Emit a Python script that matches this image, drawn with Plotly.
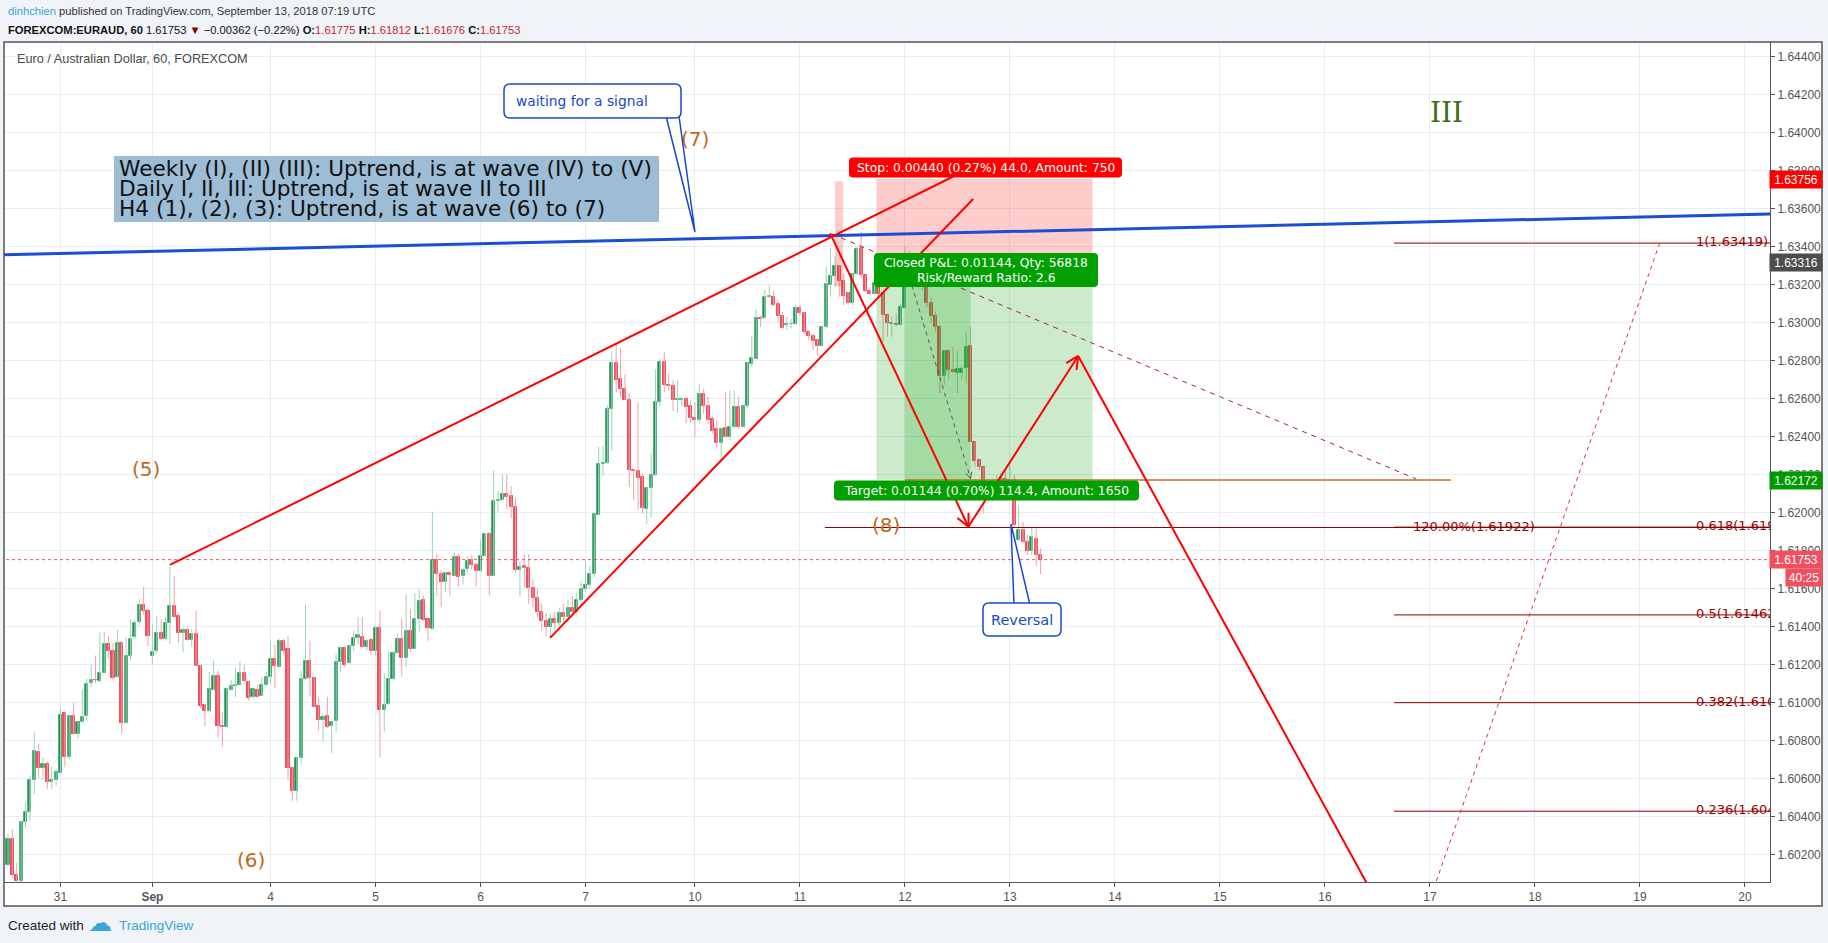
import plotly.graph_objects as go
import math

# ---------------- DATA ----------------
bar_index = list(range(-12, 225))
open_ = [1.60146,1.60283,1.60093,1.60064,1.60374,1.60423,1.60593,1.60743,1.60655,1.60678,1.60585,1.60593,
 1.60630,1.60948,1.60713,1.60932,1.60836,1.60897,1.60928,1.61102,1.61121,1.61113,1.61157,1.61309,1.61274,1.61134,
 1.61316,1.60892,1.61246,1.61344,1.61423,1.61514,1.61485,1.61246,1.61271,1.61367,1.61334,1.61420,1.61509,1.61456,
 1.61365,1.61383,1.61330,1.61362,1.61195,1.60990,1.60955,1.61067,1.61143,1.60879,1.60871,1.61067,1.61086,1.61093,
 1.61157,1.61111,1.61028,1.61067,1.61037,1.61093,
 1.61133,1.61230,1.61190,1.61326,1.61282,1.60658,1.60533,1.60709,1.61124,1.61221,1.61131,1.60984,1.60909,1.60931,
 1.60875,1.60902,1.61212,1.61288,1.61207,1.61300,1.61338,1.61346,1.61291,1.61331,1.61270,1.61393,1.60961,1.60991,
 1.61124,1.61259,1.61335,1.61233,1.61377,1.61284,1.61440,1.61540,1.61440,1.61388,1.61749,1.61677,1.61633,1.61682,
 1.61668,1.61766,1.61665,1.61702,1.61749,1.61726,1.61691,1.61772,1.61888,1.61668,1.62061,1.62065,1.62098,1.62087,
 1.62031,1.61696,1.61721,1.61710,
 1.61602,1.61550,1.61480,1.61430,1.61400,1.61440,1.61420,1.61470,1.61450,1.61500,1.61480,1.61540,1.61600,1.61620,
 1.61680,
 1.61990,1.62254,1.62263,1.62548,1.62790,1.62702,1.62653,1.62595,1.62226,1.62219,1.62188,1.62021,1.62132,1.62198,
 1.62583,1.62793,1.62674,1.62667,1.62591,1.62591,1.62600,1.62560,1.62500,1.62489,1.62626,1.62562,1.62491,1.62440,
 1.62368,1.62444,1.62398,1.62451,1.62556,1.62451,1.62562,1.62784,1.62811,1.63026,1.63026,1.63135,1.63137,1.63100,
 1.63033,
 1.62988,1.62991,1.62993,1.63080,1.63052,1.62952,1.62931,1.62909,1.62880,1.62975,1.63198,1.63245,1.63296,1.63221,
 1.63154,1.63102,1.63256,1.63391,1.63251,1.63166,1.63151,1.63205,1.63154,1.63040,1.62991,1.62995,1.62988,1.63080,
 1.63233,1.63300,1.63250,1.63242,1.63189,1.63102,1.63035,1.62979,1.62721,1.62851,1.62751,1.62737,1.62737,1.62763,
 1.62877,1.62373,1.62277,1.62238,1.62066,1.62102,1.62150,1.62120,1.62180,1.62160,1.62172,1.61857,1.61909,1.61847,
 1.61800,1.61861,1.61775]
high = [1.60309,1.60335,1.60160,1.60380,1.60479,1.60616,1.60848,1.60785,1.60713,1.60690,1.60664,1.60651,
 1.60976,1.60950,1.60935,1.60999,1.60900,1.61069,1.61125,1.61200,1.61248,1.61369,1.61374,1.61351,1.61314,1.61385,
 1.61323,1.61341,1.61437,1.61435,1.61546,1.61611,1.61493,1.61411,1.61455,1.61437,1.61449,1.61716,1.61669,1.61474,
 1.61397,1.61393,1.61388,1.61485,1.61197,1.60993,1.61162,1.61227,1.61169,1.60953,1.61075,1.61121,1.61186,1.61218,
 1.61200,1.61113,1.61074,1.61095,1.61134,1.61160,
 1.61323,1.61305,1.61335,1.61335,1.61352,1.60660,1.60712,1.61168,1.61516,1.61326,1.61133,1.61026,1.60945,1.61031,
 1.60900,1.61259,1.61300,1.61300,1.61305,1.61379,1.61449,1.61452,1.61335,1.61340,1.61405,1.61484,1.61156,1.61273,
 1.61273,1.61365,1.61442,1.61570,1.61493,1.61577,1.61598,1.61563,1.61449,1.62005,1.61782,1.61698,1.61686,1.61695,
 1.61791,1.61784,1.61707,1.61773,1.61779,1.61738,1.61858,1.61891,1.61900,1.62221,1.62116,1.62200,1.62200,1.62140,
 1.62079,1.61744,1.61782,1.61782,
 1.61650,1.61600,1.61520,1.61470,1.61470,1.61480,1.61500,1.61520,1.61540,1.61560,1.61580,1.61640,1.61750,1.61720,
 1.62000,
 1.62346,1.62351,1.62565,1.62849,1.62898,1.62867,1.62728,1.62630,1.62231,1.62583,1.62209,1.62135,1.62311,1.62755,
 1.62811,1.62846,1.62732,1.62697,1.62697,1.62610,1.62609,1.62590,1.62583,1.62679,1.62653,1.62609,1.62507,1.62486,
 1.62451,1.62635,1.62644,1.62644,1.62609,1.62565,1.62793,1.62930,1.63070,1.63039,1.63174,1.63197,1.63170,1.63118,
 1.63056,
 1.63031,1.63020,1.63093,1.63093,1.63058,1.62961,1.62944,1.62917,1.62979,1.63294,1.63391,1.63347,1.63303,1.63259,
 1.63163,1.63259,1.63396,1.63479,1.63251,1.63189,1.63215,1.63215,1.63163,1.63042,1.63031,1.63050,1.63102,1.63400,
 1.63380,1.63350,1.63300,1.63280,1.63220,1.63130,1.63060,1.62988,1.62855,1.62860,1.62873,1.62856,1.62770,1.62952,
 1.62979,1.62375,1.62280,1.62240,1.62140,1.62180,1.62200,1.62210,1.62230,1.62250,1.62200,1.62041,1.61953,1.61883,
 1.61926,1.61926,1.61812]
low = [1.60142,1.60081,1.60055,1.60055,1.60344,1.60379,1.60520,1.60607,1.60590,1.60546,1.60546,1.60564,
 1.60625,1.60660,1.60704,1.60830,1.60813,1.60892,1.60906,1.61081,1.61102,1.61102,1.61152,1.61230,1.61116,1.61128,
 1.60835,1.60888,1.61225,1.61335,1.61406,1.61464,1.61295,1.61200,1.61257,1.61327,1.61327,1.61309,1.61446,1.61314,
 1.61265,1.61327,1.61292,1.61193,1.60972,1.60876,1.60950,1.61063,1.60818,1.60769,1.60868,1.61064,1.61028,1.61090,
 1.61099,1.61011,1.61020,1.61028,1.61035,1.61090,
 1.61098,1.61075,1.61186,1.61256,1.60589,1.60484,1.60484,1.60680,1.61120,1.61031,1.60975,1.60852,1.60796,1.60866,
 1.60733,1.60849,1.61159,1.61186,1.61205,1.61273,1.61309,1.61289,1.61273,1.61251,1.61249,1.60712,1.60847,1.60989,
 1.61121,1.61258,1.61137,1.61186,1.61265,1.61282,1.61375,1.61432,1.61326,1.61385,1.61563,1.61502,1.61580,1.61559,
 1.61663,1.61612,1.61621,1.61686,1.61700,1.61612,1.61689,1.61770,1.61565,1.61665,1.62007,1.62063,1.62019,1.61970,
 1.61686,1.61559,1.61607,1.61519,
 1.61500,1.61450,1.61380,1.61350,1.61340,1.61380,1.61400,1.61420,1.61430,1.61450,1.61460,1.61520,1.61580,1.61600,
 1.61660,
 1.61986,1.62197,1.62258,1.62328,1.62635,1.62609,1.62591,1.62135,1.62065,1.62012,1.61995,1.61939,1.61974,1.62193,
 1.62560,1.62635,1.62642,1.62535,1.62526,1.62560,1.62472,1.62472,1.62398,1.62472,1.62521,1.62469,1.62416,1.62337,
 1.62272,1.62395,1.62381,1.62442,1.62442,1.62449,1.62548,1.62767,1.62808,1.62977,1.63021,1.63130,1.63083,1.63004,
 1.62968,
 1.62961,1.62970,1.62988,1.63040,1.62940,1.62909,1.62856,1.62830,1.62874,1.62972,1.63137,1.63189,1.63137,1.63093,
 1.63093,1.63093,1.63251,1.63233,1.63159,1.63145,1.63145,1.63140,1.62900,1.62926,1.62926,1.62980,1.62985,1.63075,
 1.63200,1.63230,1.63180,1.63170,1.63080,1.63000,1.62950,1.62628,1.62672,1.62700,1.62735,1.62628,1.62700,1.62680,
 1.62370,1.62242,1.62220,1.61996,1.62050,1.62060,1.62100,1.62080,1.62130,1.62120,1.61920,1.61847,1.61839,1.61777,
 1.61777,1.61719,1.61676]
close = [1.60283,1.60093,1.60064,1.60371,1.60423,1.60593,1.60746,1.60655,1.60678,1.60581,1.60595,1.60637,
 1.60937,1.60713,1.60932,1.60834,1.60897,1.60923,1.61099,1.61120,1.61118,1.61157,1.61309,1.61274,1.61130,1.61314,
 1.60892,1.61246,1.61334,1.61421,1.61514,1.61481,1.61349,1.61269,1.61367,1.61334,1.61420,1.61509,1.61449,1.61365,
 1.61383,1.61330,1.61362,1.61195,1.60985,1.60955,1.61072,1.61141,1.60876,1.60871,1.61072,1.61088,1.61095,1.61157,
 1.61113,1.61023,1.61072,1.61032,1.61093,1.61134,
 1.61230,1.61191,1.61326,1.61273,1.60654,1.60533,1.60709,1.61124,1.61221,1.61128,1.60979,1.60909,1.60926,1.60870,
 1.60898,1.61216,1.61288,1.61200,1.61298,1.61340,1.61356,1.61291,1.61326,1.61270,1.61393,1.60963,1.60989,1.61124,
 1.61261,1.61335,1.61233,1.61377,1.61284,1.61440,1.61535,1.61437,1.61391,1.61749,1.61680,1.61633,1.61682,1.61670,
 1.61766,1.61663,1.61698,1.61745,1.61723,1.61691,1.61772,1.61888,1.61668,1.62061,1.62068,1.62098,1.62084,1.62028,
 1.61696,1.61714,1.61707,1.61602,
 1.61550,1.61480,1.61430,1.61400,1.61440,1.61420,1.61470,1.61450,1.61500,1.61480,1.61540,1.61600,1.61620,1.61680,
 1.61995,
 1.62258,1.62263,1.62548,1.62790,1.62697,1.62653,1.62595,1.62226,1.62219,1.62184,1.62025,1.62132,1.62198,1.62583,
 1.62793,1.62670,1.62665,1.62591,1.62600,1.62600,1.62556,1.62500,1.62486,1.62626,1.62562,1.62486,1.62430,1.62367,
 1.62440,1.62398,1.62451,1.62556,1.62451,1.62562,1.62790,1.62814,1.63026,1.63018,1.63135,1.63137,1.63095,1.63035,
 1.62972,
 1.62991,1.62995,1.63080,1.63052,1.62952,1.62931,1.62905,1.62880,1.62975,1.63202,1.63245,1.63300,1.63221,1.63140,
 1.63102,1.63256,1.63389,1.63251,1.63166,1.63151,1.63207,1.63151,1.63040,1.63000,1.63000,1.62990,1.63084,1.63233,
 1.63300,1.63250,1.63242,1.63189,1.63102,1.63035,1.62979,1.62721,1.62851,1.62751,1.62742,1.62756,1.62756,1.62873,
 1.62373,1.62273,1.62238,1.62084,1.62102,1.62150,1.62120,1.62180,1.62160,1.62172,1.61935,1.61909,1.61847,1.61800,
 1.61870,1.61777,1.61753]

tick_bars = [0, 21, 48, 72, 96, 120, 145, 169, 193, 217, 241, 265, 289, 313, 337, 361, 385]
tick_labels = ["31", "<b>Sep</b>", "4", "5", "6", "7", "10", "11", "12", "13", "14", "15", "16", "17", "18", "19", "20"]

stop_price = 1.63756
entry_price = 1.63316
target_price = 1.62172
last_price = 1.61753
fib_names = ["1", "0.618", "0.5", "0.382", "0.236"]
fib_prices = [1.63419, 1.61924, 1.61462, 1.61000, 1.60429]
fib_zero = 1.59505
ext_price = 1.61922

# drawing anchor points (bar, price)
blue_trend = [(-14.0, 1.63357), (392.0, 1.63573)]
upper_wedge = [(25.0, 1.61725), (206.8, 1.63801)]
lower_wedge = [(111.9, 1.61341), (208.6, 1.63651)]
wave_path = [(175.9, 1.63471), (207.5, 1.61926), (232.6, 1.62825), (323.5, 1.59000)]
dashed_red = [(176.3, 1.63467), (309.8, 1.62178)]
trade_path = [(193.0, 1.63316), (208.0, 1.62180)]
fib_diag = [(306.0, fib_zero), (365.5, fib_prices[0])]
pos_bars = (186.5, 235.9)
closed_bars = (193.0, 208.0)
pink_bars = (177.0, 178.9)
pink_prices = (1.63744, 1.63190)
fib_start_bar = 304.8
ext_start_bar = 174.7
orange_line = [(193.0, target_price), (317.8, target_price)]

# ---------------- LAYOUT HELPERS ----------------
W, H = 1828, 943
L, R, T, B = 4, 1770, 42, 882
X0, PXB = 60.5, 4.3753
PY0, PTOP, PPX = 56.7, 1.644, 19000.0

def bx(px): return (px - X0) / PXB
def pp(py): return PTOP - (py - PY0) / PPX
def xpx(b): return X0 + b * PXB
def ypx(p): return PY0 + (PTOP - p) * PPX
def paper_x(px): return (px - L) / (R - L)
def paper_y(py): return (B - py) / (B - T)

UP_FILL, UP_LINE, UP_WICK = "#2E8B57", "#4DB37D", "#9AD5B6"
DN_FILL, DN_WICK = "#EF4F5F", "#F3A0A9"
FONT = "DejaVu Sans"
HFONT = "Liberation Sans"

fig = go.Figure()

# wicks
for up in (True, False):
    xs, ys = [], []
    for i, o, h, l, c in zip(bar_index, open_, high, low, close):
        if (c >= o) == up:
            xs += [i, i, None]
            ys += [l, h, None]
    fig.add_trace(go.Scatter(x=xs, y=ys, mode="lines", hoverinfo="skip",
                             line=dict(color=UP_WICK if up else DN_WICK, width=1), showlegend=False))
# bodies
for up in (True, False):
    xs, base, hgt = [], [], []
    for i, o, c in zip(bar_index, open_, close):
        if (c >= o) == up:
            xs.append(i)
            base.append(min(o, c))
            hgt.append(max(abs(c - o), 0.00003))
    fig.add_trace(go.Bar(x=xs, y=hgt, base=base, width=0.7, showlegend=False,
                         marker=dict(color=UP_FILL if up else DN_FILL,
                                     line=dict(color=UP_LINE if up else DN_FILL, width=1))))

# current price dotted line
fig.add_trace(go.Scatter(x=[bx(L) - 5, bx(R) + 5], y=[last_price, last_price], mode="lines",
                         line=dict(color="#EF4F5F", width=1, dash="3px,3px"), hoverinfo="skip", showlegend=False))

shapes = []
ann = []

def line(p0, p1, color, width, dash=None):
    d = dict(type="line", xref="x", yref="y", x0=p0[0], y0=p0[1], x1=p1[0], y1=p1[1],
             line=dict(color=color, width=width), layer="above")
    if dash:
        d["line"]["dash"] = dash
    shapes.append(d)

def arrowhead(p0, p1, color, width, size=14, ang=26):
    x0, y0 = xpx(p0[0]), ypx(p0[1])
    x1, y1 = xpx(p1[0]), ypx(p1[1])
    a = math.atan2(y1 - y0, x1 - x0)
    for s in (+1, -1):
        aa = a + math.pi - s * math.radians(ang)
        wx, wy = x1 + size * math.cos(aa), y1 + size * math.sin(aa)
        line((p1[0], p1[1]), (bx(wx), pp(wy)), color, width)

def rrect(x0, y0, x1, y1, r, fill, lc=None, lw=0):
    P = lambda x, y: f"{bx(x)},{pp(y)}"
    path = (f"M{P(x0+r,y0)} L{P(x1-r,y0)} Q{P(x1,y0)} {P(x1,y0+r)} L{P(x1,y1-r)} "
            f"Q{P(x1,y1)} {P(x1-r,y1)} L{P(x0+r,y1)} Q{P(x0,y1)} {P(x0,y1-r)} "
            f"L{P(x0,y0+r)} Q{P(x0,y0)} {P(x0+r,y0)} Z")
    shapes.append(dict(type="path", xref="x", yref="y", path=path, fillcolor=fill,
                       line=dict(color=lc or fill, width=lw if lc else 0), layer="above"))

def text(xp, yp, s, size, color, family=FONT, xanchor="center", **kw):
    ann.append(dict(x=bx(xp), y=pp(yp), xref="x", yref="y", text=s, showarrow=False,
                    font=dict(size=size, color=color, family=family), xanchor=xanchor,
                    yanchor="middle", **kw))

# frame background
shapes.append(dict(type="rect", xref="paper", yref="paper", x0=paper_x(4), x1=paper_x(1822),
                   y0=paper_y(906), y1=paper_y(42), fillcolor="white", line=dict(width=0), layer="below"))

# position zones
shapes.append(dict(type="rect", xref="x", yref="y", x0=pos_bars[0], x1=pos_bars[1], y0=entry_price, y1=stop_price,
                   fillcolor="rgba(255,0,0,0.2)", line=dict(width=0), layer="above"))
shapes.append(dict(type="rect", xref="x", yref="y", x0=pos_bars[0], x1=pos_bars[1], y0=target_price, y1=entry_price,
                   fillcolor="rgba(0,155,0,0.2)", line=dict(width=0), layer="above"))
shapes.append(dict(type="rect", xref="x", yref="y", x0=closed_bars[0], x1=closed_bars[1], y0=target_price, y1=entry_price,
                   fillcolor="rgba(0,155,0,0.2)", line=dict(width=0), layer="above"))
shapes.append(dict(type="rect", xref="x", yref="y", x0=pink_bars[0], x1=pink_bars[1], y0=pink_prices[1], y1=pink_prices[0],
                   fillcolor="rgba(255,0,0,0.2)", line=dict(width=0), layer="above"))

# fib lines
FIB = "#8B0000"
for fp in fib_prices:
    line((fib_start_bar, fp), (400, fp), FIB, 1)
line((ext_start_bar, ext_price), (400, ext_price), FIB, 1)
line(fib_diag[0], fib_diag[1], "#E03030", 1, "4px,4px")
line(orange_line[0], orange_line[1], "#D2691E", 1.5)

# trend lines
line(blue_trend[0], blue_trend[1], "#1A4FD0", 3)
line(upper_wedge[0], upper_wedge[1], "#FF0000", 2)
line(lower_wedge[0], lower_wedge[1], "#FF0000", 2)
for a, b in zip(wave_path[:-1], wave_path[1:]):
    line(a, b, "#FF0000", 2)
arrowhead(wave_path[0], wave_path[1], "#FF0000", 2)
arrowhead(wave_path[1], wave_path[2], "#FF0000", 2)
line(dashed_red[0], dashed_red[1], "#A52A2A", 1, "5px,5px")
line(trade_path[0], trade_path[1], "#555555", 1, "4px,4px")
arrowhead(trade_path[0], trade_path[1], "#555555", 1, size=7)

# callout tails
def tail(pts, color):
    P = lambda x, y: f"{bx(x)},{pp(y)}"
    path = "M" + " L".join(P(x, y) for x, y in pts) + " Z"
    shapes.append(dict(type="path", xref="x", yref="y", path=path, fillcolor="white",
                       line=dict(color=color, width=1.5), layer="above"))

BLUE = "#1848CC"
tail([(666, 116), (695, 232), (679, 116)], BLUE)
rrect(504, 84, 681, 118, 6, "white", BLUE, 1.5)
text(582, 101, "waiting for a signal", 13.8, BLUE)
tail([(1014, 605), (1011, 524), (1030, 605)], BLUE)
rrect(983, 603, 1061, 636, 6, "white", BLUE, 1.5)
text(1022, 619.5, "Reversal", 14.5, BLUE)

# info box
shapes.append(dict(type="rect", xref="x", yref="y", x0=bx(114), x1=bx(659), y0=pp(222), y1=pp(156),
                   fillcolor="#9CBDD5", line=dict(width=0), layer="above"))
info_lines = ["Weekly (I), (II) (III): Uptrend, is at wave (IV) to (V)",
              "Daily I, II, III: Uptrend, is at wave II to III",
              "H4 (1), (2), (3): Uptrend, is at wave (6) to (7)"]
for k, s in enumerate(info_lines):
    text(117, 168 + 20 * k, s, 21.7, "#111111", xanchor="left")

# position labels
rrect(849, 157.5, 1122, 177.5, 4, "#FF0000")
text(985.5, 167.5, "Stop: 0.00440 (0.27%) 44.0, Amount: 750", 12.3, "white")
rrect(874, 253, 1098, 287, 4, "#00A000")
text(986, 262.5, "Closed P&L: 0.01144, Qty: 56818", 12.3, "white")
text(986, 277.5, "Risk/Reward Ratio: 2.6", 12.3, "white")
rrect(834, 480.5, 1139, 500.5, 4, "#00A000")
text(986.5, 490.5, "Target: 0.01144 (0.70%) 114.4, Amount: 1650", 12.3, "white")

# wave labels
BROWN = "#C0691B"
text(146, 469, "(5)", 20, BROWN)
text(251, 860, "(6)", 20, BROWN)
text(695, 139, "(7)", 20, BROWN)
text(886, 525, "(8)", 20, BROWN)
text(1446, 112, "III", 28, "#3D6E1E", family="DejaVu Serif")

# fib labels (clipped to plot)
fib_lbl_x = [bx(1696)] * len(fib_prices)
fig.add_trace(go.Scatter(x=fib_lbl_x + [bx(1413)], y=fib_prices + [ext_price], mode="text",
                         text=[f"{n}({p:.5f})" for n, p in zip(fib_names, fib_prices)] + [f"120.00%({ext_price:.5f})"],
                         textposition="middle right", cliponaxis=True, hoverinfo="skip",
                         textfont=dict(size=13, color="#990000", family=FONT), showlegend=False))

# price axis labels
def plabel(p, s, bg, ypix=None, x0=1770, w=52, hh=17):
    yy = ypix if ypix is not None else ypx(p)
    ann.append(dict(xref="paper", yref="paper", x=paper_x(x0 + w / 2), y=paper_y(yy), text=s, showarrow=False,
                    font=dict(size=12, color="white", family="Liberation Sans"), bgcolor=bg,
                    width=w, height=hh, xanchor="center", yanchor="middle", borderpad=0))

plabel(stop_price, f"{stop_price:.5f}", "#FF0000")
plabel(entry_price, f"{entry_price:.5f}", "#4D4D4D")
plabel(target_price, f"{target_price:.5f}", "#009900")
plabel(last_price, f"{last_price:.5f}", "#EF4F5F")
plabel(None, "40:25", "#EF4F5F", ypix=577, x0=1786, w=36)

# header / footer
ann.append(dict(xref="paper", yref="paper", x=paper_x(6), y=paper_y(11), xanchor="left", yanchor="middle",
                showarrow=False, font=dict(size=11.2, color="#333333", family=HFONT),
                text='<span style="color:#37A6DE">dinhchien</span> published on TradingView.com, September 13, 2018 07:19 UTC'))
RED_V = "#C62828"
ann.append(dict(xref="paper", yref="paper", x=paper_x(6), y=paper_y(30), xanchor="left", yanchor="middle",
                showarrow=False, font=dict(size=11.2, color="#111111", family=HFONT),
                text=('<b>FOREXCOM:EURAUD, 60</b> 1.61753 <span style="color:#8B0000">▼</span> −0.00362 (−0.22%) '
                      f'<b>O:</b><span style="color:{RED_V}">1.61775</span> <b>H:</b><span style="color:{RED_V}">1.61812</span> '
                      f'<b>L:</b><span style="color:{RED_V}">1.61676</span> <b>C:</b><span style="color:{RED_V}">1.61753</span>')))
ann.append(dict(xref="paper", yref="paper", x=paper_x(15), y=paper_y(59), xanchor="left", yanchor="middle",
                showarrow=False, font=dict(size=12.7, color="#4A4A4A", family=HFONT),
                text="Euro / Australian Dollar, 60, FOREXCOM"))
ann.append(dict(xref="paper", yref="paper", x=paper_x(6), y=paper_y(925), xanchor="left", yanchor="middle",
                showarrow=False, font=dict(size=13.5, color="#222222", family=HFONT), text="Created with"))
ann.append(dict(xref="paper", yref="paper", x=paper_x(100), y=paper_y(923), xanchor="center", yanchor="middle",
                showarrow=False, font=dict(size=24, color="#37A6DE", family=FONT), text="☁"))
ann.append(dict(xref="paper", yref="paper", x=paper_x(117), y=paper_y(925), xanchor="left", yanchor="middle",
                showarrow=False, font=dict(size=13.5, color="#37A6DE", family=HFONT), text="TradingView"))

# frame border (on top)
shapes.append(dict(type="rect", xref="paper", yref="paper", x0=paper_x(4), x1=paper_x(1822),
                   y0=paper_y(906), y1=paper_y(42), line=dict(color="#555555", width=1.5), layer="above"))

fig.update_layout(
    width=W, height=H, autosize=False,
    margin=dict(l=L, r=W - R, t=T, b=H - B, pad=0),
    paper_bgcolor="#F0F3F7", plot_bgcolor="white",
    barmode="overlay", bargap=0, showlegend=False,
    shapes=shapes, annotations=ann,
    xaxis=dict(range=[bx(L), bx(R)], tickvals=tick_bars, ticktext=tick_labels, showgrid=True,
               gridcolor="#E6EDF3", gridwidth=1, zeroline=False, ticks="outside", ticklen=4,
               tickcolor="#555555", showline=True, linecolor="#555555", linewidth=1,
               tickfont=dict(size=12, color="#555555", family="Liberation Sans"), fixedrange=True),
    yaxis=dict(range=[pp(B), pp(T)], side="right", tick0=1.602, dtick=0.002, tickformat=".5f",
               showgrid=True, gridcolor="#E6EDF3", gridwidth=1, zeroline=False, ticks="outside", ticklen=4,
               tickcolor="#555555", showline=True, linecolor="#555555", linewidth=1,
               tickfont=dict(size=12, color="#555555", family="Liberation Sans"), fixedrange=True),
)

fig.write_html("out.html", config={"displayModeBar": False},
               post_script="document.body.style.margin='0';document.body.style.overflow='hidden';")
